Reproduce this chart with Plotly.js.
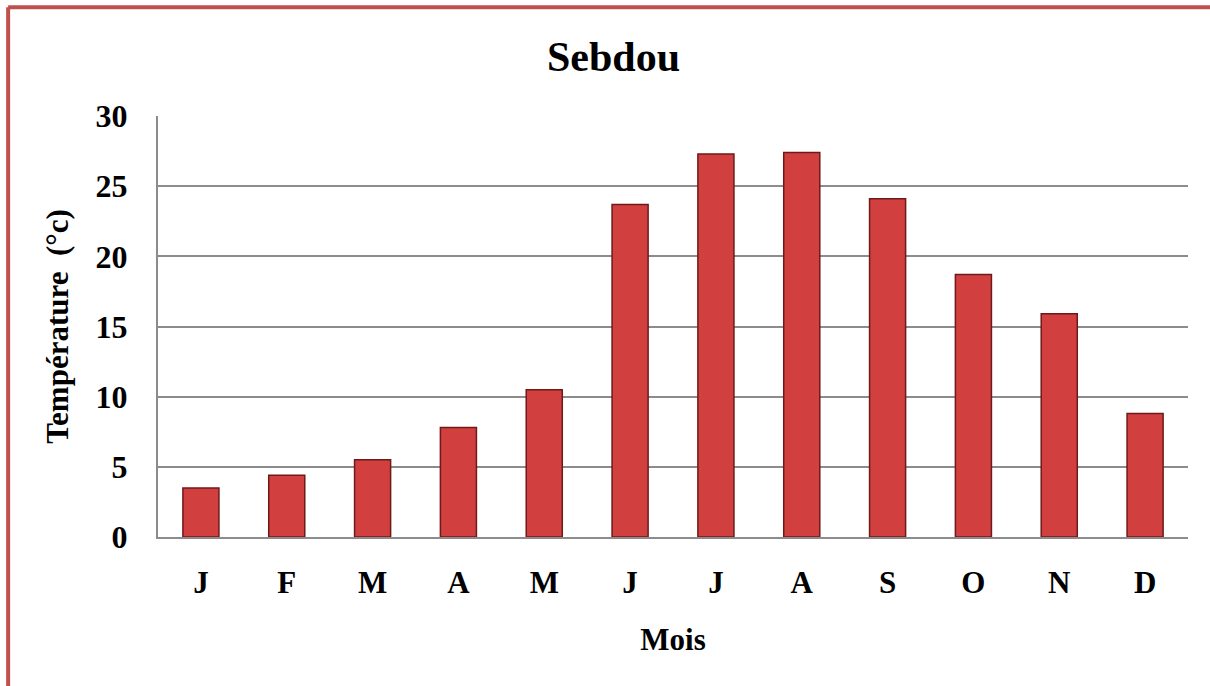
<!DOCTYPE html>
<html>
<head>
<meta charset="utf-8">
<script src="https://cdn.plot.ly/plotly-3.0.1.min.js"></script>
<style>html,body{margin:0;padding:0;background:#fff;}#chart{width:1210px;height:686px;}</style>
</head>
<body>
<div id="chart"></div>
<script>
const months = ["J", "F", "M", "A", "M", "J", "J", "A", "S", "O", "N", "D"];
const temperatures = [3.5, 4.4, 5.5, 7.8, 10.5, 23.7, 27.3, 27.4, 24.1, 18.7, 15.9, 8.8];
const yTicks = [0, 5, 10, 15, 20, 25, 30];
const chartTitle = "Sebdou";
const xTitle = "Mois";
const yTitle = "Température  (°c)";

const idx = months.map((_, i) => i);
const font = {family: "Liberation Serif, Times New Roman, serif", color: "#000"};

const trace = {
  type: "bar",
  x: idx,
  y: temperatures,
  marker: {color: "#D13F3F", line: {color: "#6E1A1A", width: 1.5}},
  hoverinfo: "y"
};

const layout = {
  width: 1210, height: 686,
  margin: {l: 158, r: 22, t: 116, b: 149},
  paper_bgcolor: "#fff", plot_bgcolor: "#fff",
  bargap: 0.58,
  showlegend: false,
  font: font,
  title: {text: "<b>" + chartTitle + "</b>", font: Object.assign({}, font, {size: 42}), x: 0.507, xanchor: "center", y: 0.918, yanchor: "middle"},
  xaxis: {
    tickmode: "array", tickvals: idx, ticktext: months.map(m => "<b>" + m + "</b>"),
    range: [-0.5, 11.5],
    tickfont: Object.assign({}, font, {size: 31}),
    showgrid: false, zeroline: false,
    showline: true, linecolor: "#8c8c8c", linewidth: 2,
    ticks: "", ticklabelstandoff: 17,
    title: {text: "<b>" + xTitle + "</b>", font: Object.assign({}, font, {size: 31}), standoff: 29}
  },
  yaxis: {
    range: [0, 30],
    tickmode: "array", tickvals: yTicks, ticktext: yTicks.map(v => "<b>" + v + "</b>"),
    tickfont: Object.assign({}, font, {size: 32}),
    showgrid: true, gridcolor: "#8c8c8c", gridwidth: 2,
    zeroline: false,
    showline: true, linecolor: "#8c8c8c", linewidth: 2,
    ticks: "", ticklabelstandoff: 22,
    title: {text: "<b>" + yTitle + "</b>", font: Object.assign({}, font, {size: 31}), standoff: 18}
  },
  shapes: [
    {type: "line", xref: "paper", yref: "paper", x0: -0.1455, x1: 1.1, y0: 1.2585, y1: 1.2585, line: {color: "#C0504D", width: 4}},
    {type: "line", xref: "paper", yref: "paper", x0: -0.1455, x1: -0.1455, y0: 1.2585, y1: -0.4, line: {color: "#C0504D", width: 4}}
  ]
};

Plotly.newPlot("chart", [trace], layout, {displayModeBar: false, staticPlot: true});
</script>
</body>
</html>
